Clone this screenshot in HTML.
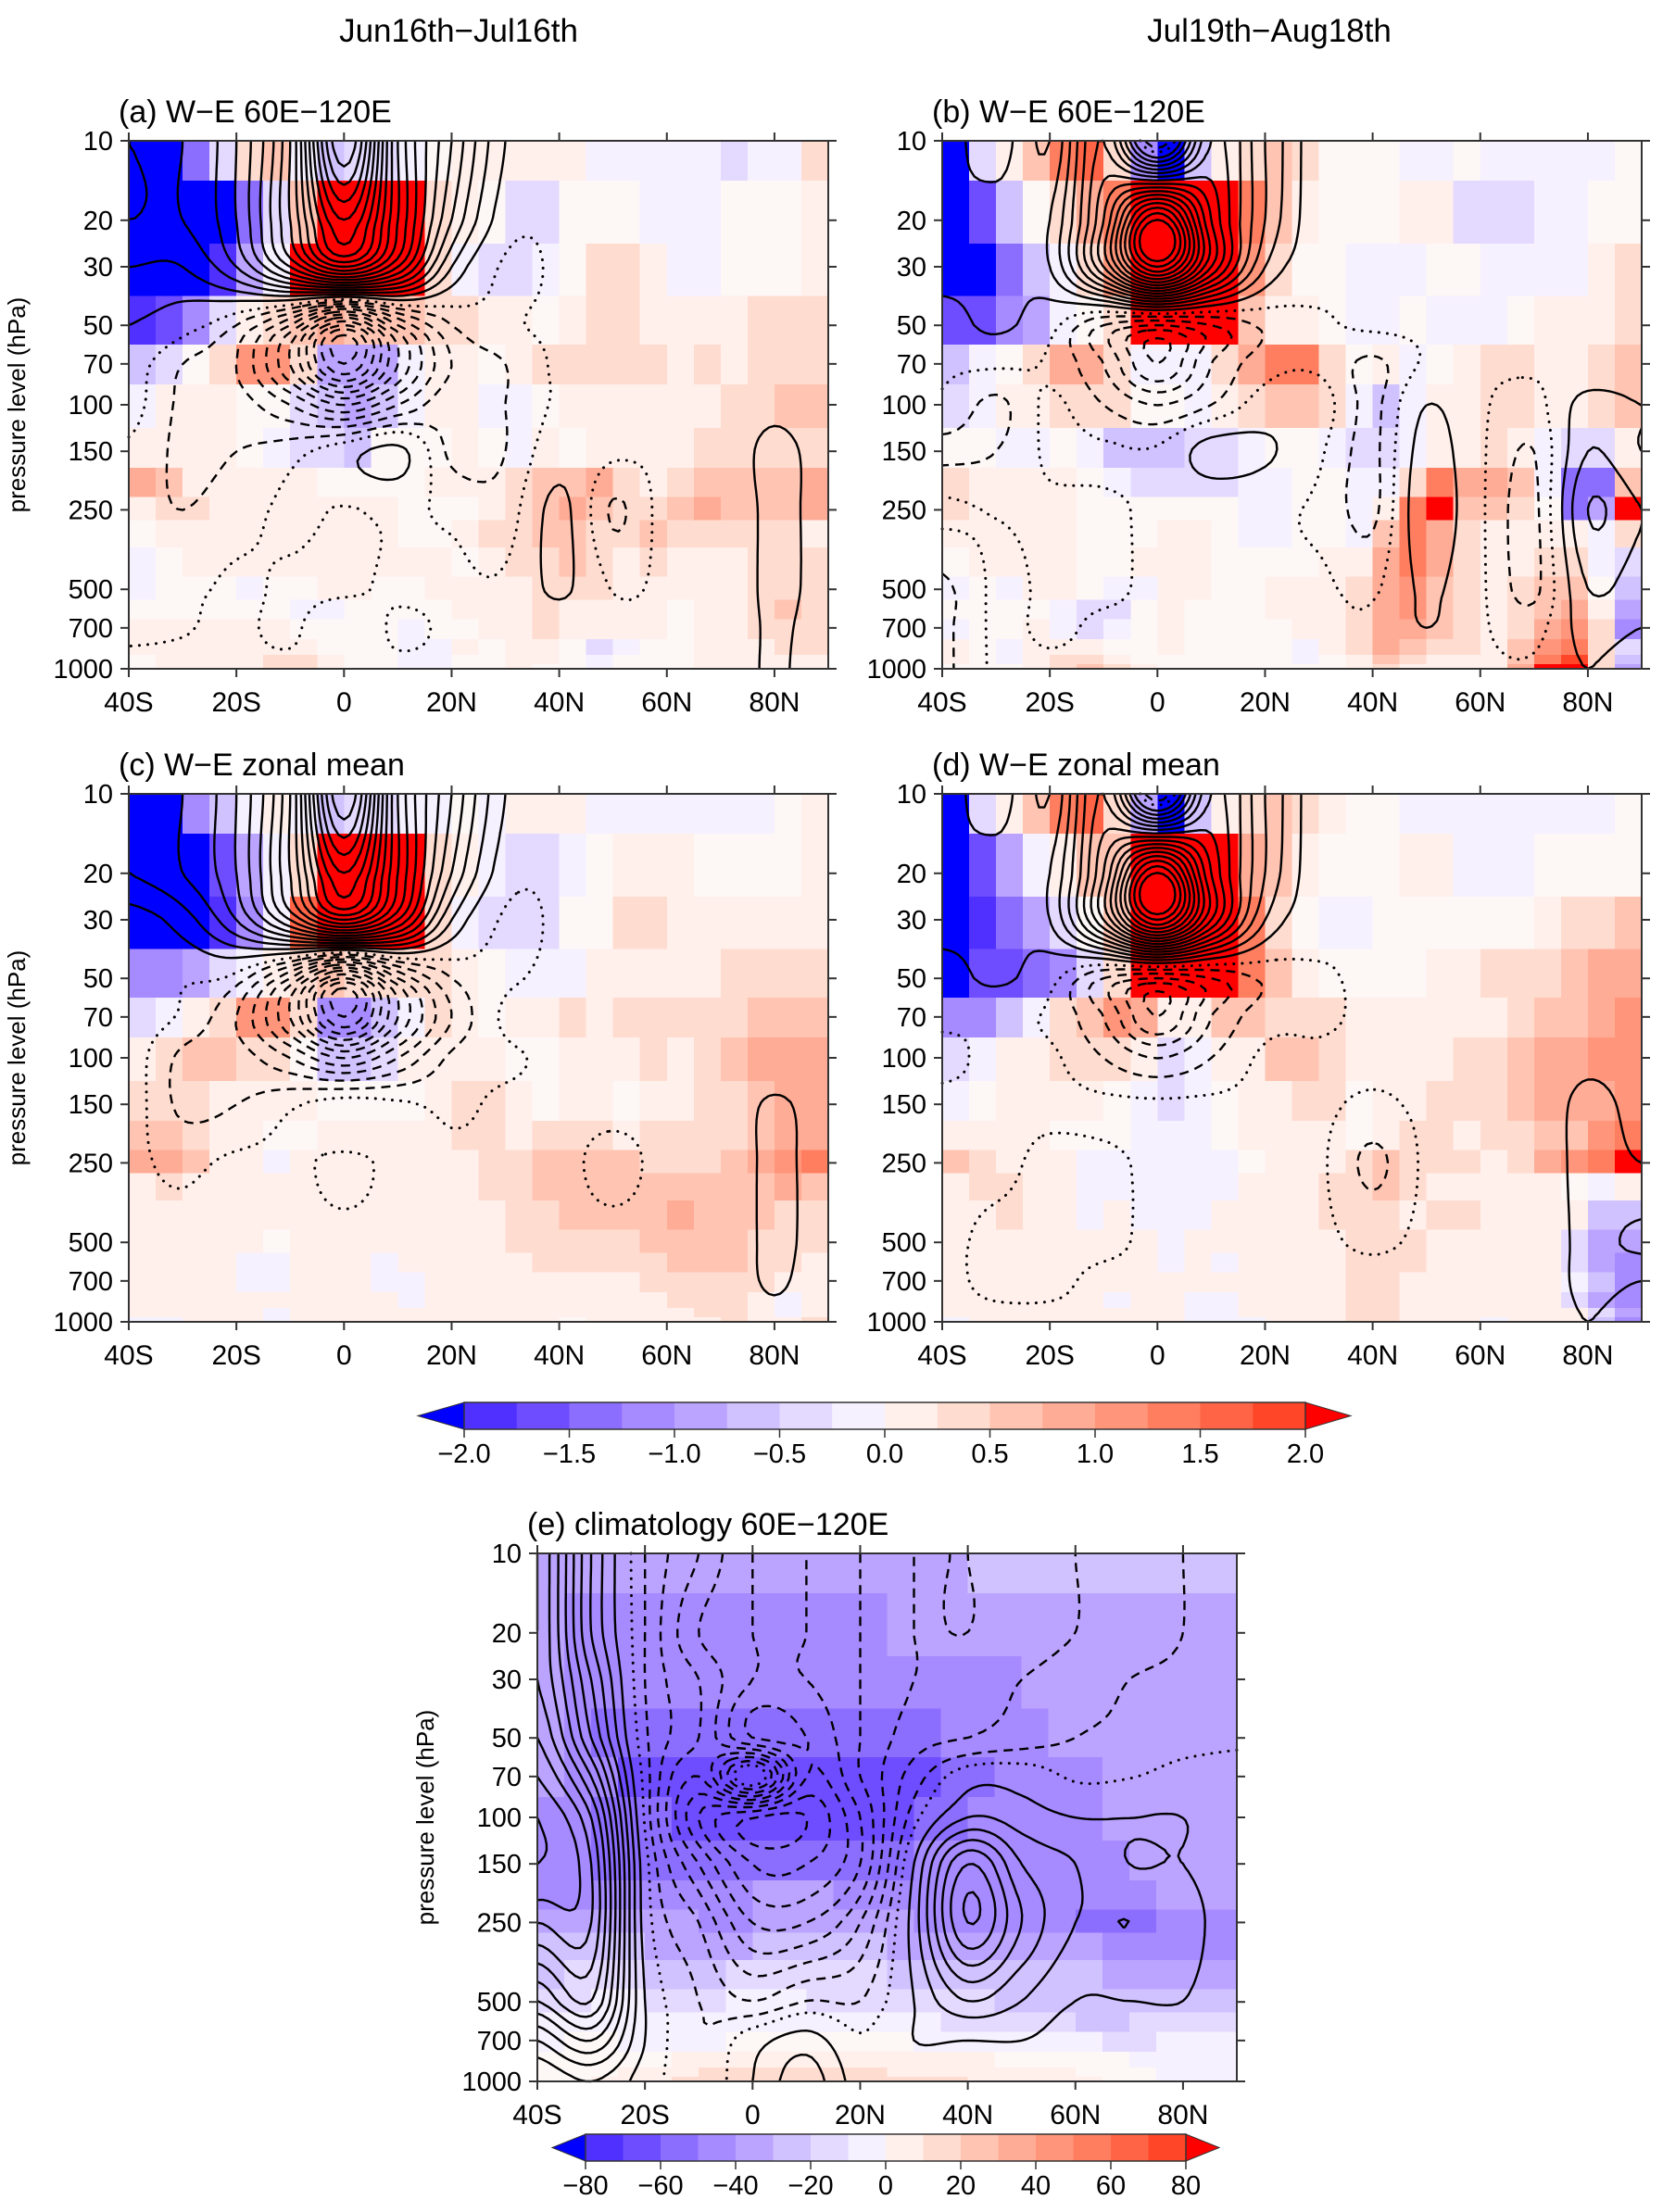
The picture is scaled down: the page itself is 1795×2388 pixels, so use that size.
<!DOCTYPE html>
<html><head><meta charset="utf-8">
<style>
html,body{margin:0;padding:0;background:#fff;}
svg{display:block;font-family:"Liberation Sans",sans-serif;}
</style></head>
<body>
<svg id="fig" width="1795" height="2388" viewBox="0 0 1795 2388" xmlns="http://www.w3.org/2000/svg">
<text x="495" y="45" font-size="35" text-anchor="middle">Jun16th−Jul16th</text>
<text x="1370" y="45" font-size="35" text-anchor="middle">Jul19th−Aug18th</text>
</svg>
<script>
// ---- chart data ----
const lats = [-40,-35,-30,-25,-20,-15,-10,-5,0,5,10,15,20,25,30,35,40,45,50,55,60,65,70,75,80,85];
const levels = [10,20,30,50,70,100,150,200,250,300,400,500,600,700,850,925,1000];
const yTicks = [10,20,30,50,70,100,150,250,500,700,1000];
const xTicks = [-40,-20,0,20,40,60,80];
const xTickLabels = ["40S","20S","0","20N","40N","60N","80N"];
const cbTicks1 = ["-2.0","-1.5","-1.0","-0.5","0.0","0.5","1.0","1.5","2.0"];
const cbTicks2 = ["-80","-60","-40","-20","0","20","40","60","80"];
const cLats = [-40,-30,-20,-10,0,10,20,30,40,50,60,70,80,90];
const cLevels = [10,20,30,50,70,100,150,250,500,700,1000];

const aData = [
[-9,-9,-6,-2,2,3,-1,-3,-2,-2,-1,0,1,1,1,1,1,-1,-1,-1,-1,-1,-2,-1,-1,2],
[-9,-9,-9,-9,-6,-2,3,9,9,9,9,2,1,0,-2,-2,0,0,0,-1,-1,-1,0,0,0,1],
[-9,-9,-9,-8,-4,-1,9,9,9,9,9,2,-1,-2,-2,-1,0,2,2,1,-1,-1,0,0,0,1],
[-8,-7,-5,-2,1,2,3,4,3,3,3,2,2,1,1,0,1,2,2,1,1,1,1,2,2,2],
[-3,-2,0,2,5,5,2,-4,-4,-4,-1,1,1,0,1,2,2,2,2,2,1,2,1,2,2,2],
[-1,1,1,1,0,0,-2,-3,-4,-3,-1,1,1,-1,-1,0,1,1,1,1,1,1,2,2,3,3],
[1,1,1,1,0,-1,-2,-2,-3,0,0,0,1,0,-1,1,0,1,1,1,1,2,2,2,2,2],
[4,3,1,1,1,1,1,0,0,0,0,1,1,1,2,3,3,4,2,1,2,3,3,3,3,4],
[1,2,2,1,1,1,1,1,1,1,0,0,0,1,2,3,4,3,2,2,3,4,3,3,3,4],
[0,1,1,1,1,1,1,1,1,1,0,0,1,2,2,3,3,2,2,3,2,2,2,2,2,1],
[-1,0,1,1,1,1,1,1,1,1,1,1,0,1,2,2,3,2,1,2,1,1,1,2,2,2],
[-1,0,0,0,-1,0,0,1,1,0,0,1,1,1,1,2,2,2,1,1,1,1,1,2,2,2],
[0,0,0,0,0,0,-1,-1,0,0,0,0,1,1,1,2,1,1,1,1,0,1,1,2,3,2],
[1,1,1,1,1,1,0,0,0,0,-1,0,0,1,1,2,1,1,1,1,0,1,1,2,2,2],
[1,1,1,1,1,1,1,0,0,0,-1,-1,1,0,1,1,0,-2,-1,0,0,1,1,1,2,2],
[0,1,1,1,1,2,2,1,0,0,-1,-1,0,0,1,1,0,-1,0,0,0,1,1,1,1,1],
[0,1,1,1,1,2,2,1,0,0,-1,-1,0,0,1,0,0,-1,0,0,0,1,1,1,1,1]];

const bData = [
[-9,-2,1,3,6,7,2,-5,-9,-3,1,2,3,2,0,0,0,-1,-1,0,-1,-1,-1,-1,-1,0],
[-9,-7,-3,0,2,4,6,9,9,9,9,6,3,1,0,0,0,1,1,-2,-2,-2,-1,-1,0,0],
[-9,-9,-6,-3,-1,2,5,9,9,9,9,5,2,0,0,-1,-1,-1,0,0,-1,-1,-1,-1,1,2],
[-7,-7,-5,-4,-1,0,2,9,9,9,9,3,1,1,0,-1,-1,0,-1,-1,-1,0,1,1,1,2],
[-3,-1,0,2,4,4,2,-1,-1,-1,2,4,6,6,2,0,1,-1,0,1,2,2,1,1,2,3],
[-2,-1,1,1,2,2,2,0,0,-1,1,2,3,3,2,-1,-3,-1,1,1,2,2,1,1,2,3],
[0,0,-1,-1,0,-1,-3,-3,-3,-2,-2,-1,0,0,-1,-2,-2,-1,1,1,2,1,-1,-2,-2,1],
[2,1,1,1,1,0,-1,-2,-2,-2,-2,-1,-1,0,0,-1,-1,2,6,4,4,3,-1,-6,-6,3],
[2,1,1,1,1,0,0,0,0,0,0,-1,-1,0,0,-1,1,6,9,3,3,2,0,-6,-4,9],
[1,1,1,1,1,0,0,0,1,1,0,-1,-1,0,0,-1,3,6,4,2,1,1,1,1,-1,2],
[0,1,1,1,1,0,0,1,1,1,0,0,0,0,1,1,4,6,4,2,1,1,2,2,-1,-2],
[-1,0,-1,1,1,0,-1,-1,1,1,0,0,1,1,1,2,4,5,3,2,1,2,3,3,0,-3],
[0,0,0,0,-1,-2,-2,0,1,0,0,0,1,1,1,2,4,5,3,2,1,2,3,4,1,-4],
[-1,0,0,1,-1,-2,-1,0,1,0,0,0,0,1,1,2,4,4,3,2,1,2,4,5,2,-5],
[1,0,-1,1,1,1,0,0,1,0,0,0,0,-1,1,2,4,3,2,2,1,3,5,6,2,-2],
[1,0,-1,1,2,2,1,0,0,0,0,0,0,-1,0,1,3,2,1,1,1,3,6,8,2,-3],
[0,0,0,1,2,3,2,1,0,0,0,0,0,0,0,1,2,1,1,1,1,4,9,9,2,-4]];

const cData = [
[-9,-9,-5,-3,-1,1,-1,-3,-2,-2,-1,-1,0,-1,1,1,1,-1,-1,-1,-1,-1,-1,-1,0,1],
[-9,-9,-9,-7,-4,-1,2,9,9,9,9,2,1,-1,-2,-2,-1,0,1,1,1,0,0,0,0,1],
[-9,-9,-9,-8,-5,-1,7,9,9,9,9,2,-1,-2,-2,-2,0,0,2,2,1,1,1,1,1,1],
[-5,-5,-4,-2,-1,1,2,3,2,2,2,2,1,0,-1,-1,-1,1,1,1,1,1,2,2,2,2],
[-2,-1,1,2,5,5,2,-5,-5,-3,-1,2,1,0,1,1,2,1,2,2,2,2,2,3,3,3],
[1,2,3,3,2,2,0,-3,-3,-2,1,1,1,1,0,0,1,1,1,2,1,2,3,4,4,4],
[2,2,2,1,1,1,1,0,0,0,0,1,2,2,1,0,1,1,0,1,1,2,2,3,4,4],
[3,3,2,1,1,0,0,1,1,1,1,1,2,2,1,2,2,2,1,2,2,2,2,3,4,4],
[4,4,3,1,1,-1,1,1,1,1,1,1,1,2,2,3,3,3,3,2,2,2,3,4,5,6],
[1,2,1,1,1,1,1,1,1,1,1,1,1,2,2,3,3,3,3,3,3,3,3,3,4,3],
[1,1,1,1,1,1,1,1,1,1,1,1,1,1,2,2,3,3,3,3,4,3,3,3,2,2],
[1,1,1,1,1,0,1,1,1,1,1,1,1,1,2,2,2,2,2,3,3,3,3,2,2,2],
[1,1,1,1,-1,-1,1,1,1,-1,1,1,1,1,1,2,2,2,2,2,3,3,3,2,2,1],
[1,1,1,1,-1,-1,1,1,1,-1,-1,1,1,1,1,1,1,1,1,2,2,2,2,2,1,1],
[1,1,1,1,1,1,1,1,1,1,-1,1,1,1,1,1,1,1,1,1,2,2,2,1,-1,1],
[1,1,1,1,1,-1,1,1,1,1,1,1,1,1,1,1,1,1,1,1,1,2,2,1,-1,1],
[-1,-1,1,1,1,-1,1,1,1,1,1,1,1,1,1,1,0,1,1,1,1,1,2,1,1,2]];

const dData = [
[-9,-2,1,3,6,7,2,-4,-9,-3,1,2,3,2,1,0,0,-1,-1,-1,-1,-1,-1,-1,-1,0],
[-9,-7,-4,-1,1,3,3,9,9,9,9,4,3,1,0,0,0,1,1,-1,-1,-1,0,0,0,0],
[-9,-8,-6,-4,-2,0,3,9,9,9,9,6,2,0,-1,-1,0,0,0,0,0,0,1,2,2,3],
[-9,-7,-7,-6,-5,-2,2,9,9,9,9,6,3,1,0,0,0,0,1,1,2,2,2,3,4,4],
[-5,-5,-3,-1,2,3,5,4,1,1,3,3,2,2,2,1,1,1,1,1,1,2,3,3,4,5],
[-2,-1,1,1,2,2,2,1,-2,-1,1,1,3,3,2,1,1,1,1,2,2,3,4,4,5,5],
[-1,0,1,1,1,1,0,-1,-2,-1,0,1,1,2,2,0,1,1,2,2,2,3,4,4,4,5],
[1,1,1,1,0,0,0,-1,-1,-1,0,1,1,1,1,0,1,2,2,1,2,2,3,3,5,6],
[3,2,1,1,1,-1,-1,-1,-1,-1,-1,0,1,1,1,2,3,2,2,2,1,2,4,5,6,9],
[1,2,2,1,1,-1,-1,-1,-1,-1,-1,1,1,1,2,2,3,2,1,1,1,1,1,0,-1,1],
[1,1,2,1,1,-1,1,-1,-1,-1,1,1,1,1,2,2,2,1,2,2,1,1,1,1,-3,-3],
[1,1,1,1,1,1,1,1,-1,1,1,1,1,1,1,2,2,2,1,1,1,1,1,-2,-4,-4],
[1,1,1,1,1,1,1,1,-1,1,-1,1,1,1,1,2,2,2,1,1,1,1,1,-2,-4,-5],
[1,1,1,1,1,1,1,1,1,1,1,1,1,1,1,2,2,1,1,1,1,1,1,-1,-3,-5],
[1,1,1,1,1,1,-1,1,1,-1,-1,1,1,1,1,2,2,1,1,1,1,1,1,-2,-4,-5],
[1,1,1,1,1,1,1,1,1,-1,-1,1,1,1,1,2,2,1,1,1,1,1,1,1,-2,-4],
[-1,1,1,1,1,1,1,1,1,-1,-1,-1,1,1,1,2,2,1,1,1,-1,1,1,1,-3,-5]];

const eData = [
[-4,-4,-4,-4,-4,-4,-4,-4,-4,-4,-4,-4,-4,-4,-4,-4,-3,-3,-3,-3,-3,-3,-3,-3,-3,-3],
[-4,-5,-5,-5,-5,-5,-5,-5,-5,-5,-5,-5,-5,-4,-4,-4,-4,-4,-4,-4,-4,-4,-4,-4,-4,-4],
[-4,-5,-5,-5,-5,-5,-5,-5,-5,-5,-5,-5,-5,-5,-5,-5,-5,-5,-4,-4,-4,-4,-4,-4,-4,-4],
[-4,-5,-6,-6,-6,-6,-6,-6,-6,-6,-6,-6,-6,-6,-6,-5,-5,-5,-5,-4,-4,-4,-4,-4,-4,-4],
[-4,-5,-5,-7,-7,-7,-7,-7,-7,-7,-7,-7,-7,-7,-7,-6,-6,-5,-5,-5,-5,-4,-4,-4,-4,-4],
[-5,-5,-6,-6,-6,-7,-7,-7,-7,-7,-7,-7,-7,-7,-6,-6,-5,-5,-5,-5,-5,-4,-4,-4,-4,-4],
[-5,-5,-6,-6,-6,-6,-6,-6,-6,-6,-6,-6,-6,-6,-5,-5,-5,-5,-5,-5,-5,-5,-4,-4,-4,-4],
[-5,-5,-5,-5,-5,-5,-5,-5,-4,-4,-4,-5,-5,-5,-5,-5,-5,-5,-5,-5,-5,-5,-5,-4,-4,-4],
[-4,-4,-4,-4,-4,-4,-5,-5,-4,-4,-4,-4,-4,-4,-5,-5,-5,-5,-5,-5,-6,-6,-6,-5,-5,-5],
[-3,-3,-3,-3,-4,-4,-4,-4,-3,-3,-3,-3,-3,-4,-4,-4,-4,-4,-4,-4,-4,-5,-5,-5,-5,-5],
[-3,-2,-2,-2,-3,-3,-3,-2,-2,-2,-2,-2,-2,-3,-3,-3,-3,-3,-3,-3,-3,-4,-4,-4,-4,-4],
[-2,-2,-1,-1,-2,-2,-2,-1,-1,-1,-2,-2,-2,-2,-2,-2,-2,-3,-3,-3,-3,-3,-3,-3,-3,-3],
[-1,-1,-1,-1,-1,-1,-1,-1,-1,-1,-1,-1,-1,-1,-1,-2,-2,-2,-2,-2,-3,-3,-2,-2,-2,-2],
[-1,0,0,-1,-1,-1,-1,0,0,0,0,0,0,0,-1,-1,-1,-1,-1,-1,-1,-2,-2,-1,-1,-1],
[0,0,0,0,0,1,1,1,1,1,1,1,1,1,1,1,1,0,0,0,0,0,-1,-1,-1,-1],
[0,0,0,1,1,1,2,2,2,2,2,2,2,1,1,1,1,1,1,1,0,0,0,-1,-1,-1],
[0,0,1,1,1,2,2,2,2,2,2,2,2,2,2,2,1,1,1,1,1,0,0,-1,-1,-1]];

// contour fields (on cLevels x cLats)
const aCont = [
[3,3,5,10,20,10,5,1,0,0,0,0,0,0],
[3,3,5,10,16,10,4,0.4,0,0,0,0,0,0],
[2,2,4,8,12,8,2,-0.3,0,0,0,0,0,0],
[1,0.3,-1,-4,-9,-4,-1,-0.3,0,0,0,0,0,0],
[0.3,-1,-2,-6,-11,-6,-2,-1,0,0,0,0,0,0],
[0.2,-1.2,-1.5,-3,-5,-3,-1.2,-1,0,0,0,0,0.6,0],
[-0.3,-1.2,-1,-0.5,0.5,1.3,-1.2,-1,0.5,0,0,0,1.4,0.3],
[-0.6,-1,-0.5,0,-0.2,0,-0.3,-0.6,1.3,-1.1,0.2,0,1.3,0.5],
[-0.6,-0.4,0,-0.3,-0.3,0,0,0,1.2,-0.2,0,0,1.3,0.5],
[-0.3,-0.2,0,-0.3,0.6,-0.3,0,0,0.3,0,0,0,1.2,0.3],
[0,0,0,0,0,0,0,0,0,0,0,0,1.2,0]];
const bCont = [
[1.5,2.5,1,6,-2,6,3,0.3,0,0,0,0,0,0],
[2,1.5,2,8,16,8,3,0.3,0,0,0,0,0,0],
[1.5,1.2,2,8,15,8,2,0.3,0,0,0,0,0,0],
[0.5,1.2,0.2,-2,-3,-2,-0.8,-0.3,0,0,0,0,0,0],
[0,0,-0.3,-2,-5,-2,-0.5,-0.3,-1.2,0,0,0,0,0],
[-0.3,-1.2,0,-1,-2,-1,0.3,0.3,-1.2,1,0,-0.5,1.5,1],
[-1.2,-1,0,0,0,1.5,1.2,0,-1.2,1.5,0,-1,2,1],
[0,-0.2,-0.3,-0.3,0,0,0,-0.3,-1.2,1.8,0,-1.2,3,2],
[-1.2,0,-0.3,-0.3,0,0,0,0,-0.3,1.2,0,-1.2,2,1.5],
[-1.2,0,-0.3,0,0,0,0,0,0,1,0,-0.5,1.5,1],
[-1.2,0,0,0,0,0,0,0,0,0,0,0,1,0]];
const cCont = [
[2,3,5,10,20,10,5,1,0,0,0,0,0,0],
[2,3,5,10,16,10,4,0.4,0,0,0,0,0,0],
[0.5,1.5,4,8,12,8,2,-0.3,0,0,0,0,0,0],
[0,0,-0.5,-4,-9,-4,-1,-0.3,0,0,0,0,0,0],
[0.3,-0.3,-2,-6,-11,-6,-2,0,0,0,0,0,0,0],
[0.3,-1.2,-1.5,-3,-5,-3,-0.8,-0.3,0,0,0,0,0,0],
[0.3,-1.2,-1,-0.3,0.3,0,-0.3,0,0,0,0,0,1.2,0.2],
[0,-0.3,0,0,-0.3,0,0,0,0,-0.3,0,0,1.3,0.3],
[0,0,0,0,0,0,0,0,0,0,0,0,1.3,0.3],
[0,0,0,0,0,0,0,0,0,0,0,0,1.2,0],
[0,0,0,0,0,0,0,0,0,0,0,0,0.6,0]];
const dCont = [
[1.5,2.5,1,6,-2,6,3,0.3,0,0,0,0,0,0],
[2,1.5,2,8,16,8,3,0.3,0,0,0,0,0,0],
[1.5,1.2,2,8,15,8,2,0.3,0,0,0,0,0,0],
[0.5,1.2,0.2,-2,-3,-2,-0.8,-0.3,0,0,0,0,0,0],
[0,0,-0.3,-2,-5,-2,-0.5,-0.3,0,0,0,0,0,0],
[-0.3,0,0,-1,-2,-1,0,0,0,0,0,0,0.6,0.3],
[0,0,0,0,0,0,0,0,-0.3,0,0,0,1.4,0.5],
[0,0,-0.3,-0.3,0,0,0,0,-1.2,0,0,0,1.5,1],
[0,-0.3,-0.3,-0.3,0,0,0,0,-0.3,0,0,0,1.5,2.2],
[0,-0.3,-0.3,0,0,0,0,0,0,0,0,0,1.4,1],
[0,0,0,0,0,0,0,0,0,0,0,0,1,0]];
const eCont = [
[9,3,-1,-3,-5,-5,-4,-3,-3,-2.5,-2,-1.5,-1,-0.5],
[9,3,-1,-4,-5,-5,-4,-3,-3,-2.5,-2,-1.5,-1,-0.5],
[9,4,-1,-3,-5,-5,-4,-3,-2.5,-2,-1.5,-1,-0.8,-0.5],
[10,5,-0.8,-3,-6,-6,-4,-2.5,-2,-1.5,-1,-0.8,-0.5,-0.3],
[11,7,-0.5,-4,1,-6,-4,-1.5,0.5,0.5,-0.3,-0.2,0.2,0.2],
[12,9,-0.3,-6,-8,-8,-5,-0.5,2,1.5,1,1,1,0.3],
[12,10,0.3,-4,-7,-7,-5,1,6,3,2,1,1,0.3],
[10,10,0.5,-2,-5,-5,-3,1.5,7,4,2,2,1.5,0.3],
[6,8,1,-1,-2,-1,-1,1,3,2,1,1,1,0.3],
[3,5,1,-1,0.5,1.5,0,1,1,1,0.5,0.5,0.5,0.2],
[1,2,0.5,-1,1,2.5,0.5,0.5,0.3,0.2,0.2,0.2,0.2,0.2]];

// ---- rendering ----
const NS = "http://www.w3.org/2000/svg";
const svg = document.getElementById("fig");
const negCols = ["#f5f1ff","#e4daff","#d0c2ff","#bba4ff","#a68aff","#8c6eff","#6e4cff","#5030ff"];
const posCols = ["#fff0ec","#ffdcd0","#ffc4b2","#ffac96","#ff957a","#ff7e60","#ff6446","#ff4628"];
function colorOf(v){
  if(v>=9) return "#ff0000";
  if(v<=-9) return "#0000ff";
  if(v===0) return "#fdf7f6";
  return v>0 ? posCols[v-1] : negCols[-v-1];
}
function mk(tag, attrs, parent){
  const e = document.createElementNS(NS, tag);
  for(const k in attrs) e.setAttribute(k, attrs[k]);
  (parent||svg).appendChild(e);
  return e;
}
function cr(p0,p1,p2,p3,t){
  return 0.5*((2*p1)+(-p0+p2)*t+(2*p0-5*p1+4*p2-p3)*t*t+(-p0+3*p1-3*p2+p3)*t*t*t);
}
const W = 755, H = 570;
function drawPanel(px, py, title, data, cont, cstep, yTitle, pname){
  const g = mk("g", {});
  
  
  const xs = lat => px + (lat + 40) / 130 * W;
  const ys = p => py + (Math.log10(p) - 1) / 2 * H;
  const cg = mk("g", {"shape-rendering":"crispEdges"}, g);
  
  
  for(let i=0;i<levels.length;i++){
    const pTop = i===0 ? 10 : Math.sqrt(levels[i-1]*levels[i]);
    const pBot = i===levels.length-1 ? 1000 : Math.sqrt(levels[i]*levels[i+1]);
    for(let j=0;j<lats.length;j++){
      const x0 = xs(lats[j]), x1 = xs(Math.min(lats[j]+5, 90));
      const r = mk("rect", {x:x0.toFixed(1), y:ys(pTop).toFixed(1), width:(x1-x0+0.6).toFixed(1), height:(ys(pBot)-ys(pTop)+0.6).toFixed(1), fill:colorOf(data[i][j])}, cg);
      
      
    }
  }
  const nx = 131, ny = 90;
  const lp = cLevels.map(p=>Math.log10(p));
  const nR = cont.length, nC = cont[0].length;
  const gv = (i,j) => cont[Math.max(0,Math.min(nR-1,i))][Math.max(0,Math.min(nC-1,j))];
  function sample(lat, l){
    let j = 0; while(j < cLats.length-2 && lat > cLats[j+1]) j++;
    let i = 0; while(i < lp.length-2 && l > lp[i+1]) i++;
    const tx = (lat - cLats[j])/(cLats[j+1]-cLats[j]);
    const ty = (l - lp[i])/(lp[i+1]-lp[i]);
    const rows = [];
    for(let k=-1;k<=2;k++){
      rows.push(cr(gv(i+k,j-1),gv(i+k,j),gv(i+k,j+1),gv(i+k,j+2),tx));
    }
    return cr(rows[0],rows[1],rows[2],rows[3],ty);
  }
  const F = [], GX = [], GY = [];
  for(let j=0;j<ny;j++){
    const l = 1 + 2*j/(ny-1);
    GY.push(py + (l-1)/2*H);
    const row = [];
    for(let i=0;i<nx;i++){ row.push(sample(-40 + 130*i/(nx-1), l)); }
    F.push(row);
  }
  for(let i=0;i<nx;i++) GX.push(px + W*i/(nx-1));
  let mn=Infinity, mx=-Infinity;
  cont.forEach(r=>r.forEach(v=>{mn=Math.min(mn,v);mx=Math.max(mx,v);}));
  const clev = [];
  for(let c=Math.ceil(mn/cstep)*cstep; c<=mx; c+=cstep) clev.push(c);
  const og = mk("g", {fill:"none", stroke:"#000", "stroke-linejoin":"round"}, g);
  
  
  clev.forEach(c0=>{
    const isZero = Math.abs(c0) < 1e-9;
    const c = isZero ? -0.15 : c0;
    const pts = {}, adj = {};
    function ept(key, x0,y0,v0,x1,y1,v1){
      if(!pts[key]){ const t=(c-v0)/(v1-v0); pts[key]=[x0+(x1-x0)*t, y0+(y1-y0)*t]; }
      return key;
    }
    function link(a,b){ (adj[a]=adj[a]||[]).push(b); (adj[b]=adj[b]||[]).push(a); }
    for(let j=0;j<ny-1;j++) for(let i=0;i<nx-1;i++){
      const a=F[j][i], b=F[j][i+1], cc=F[j+1][i+1], d=F[j+1][i];
      const e=[];
      if((a>=c)!==(b>=c)) e.push(ept("h"+i+","+j, GX[i],GY[j],a, GX[i+1],GY[j],b));
      if((b>=c)!==(cc>=c)) e.push(ept("v"+(i+1)+","+j, GX[i+1],GY[j],b, GX[i+1],GY[j+1],cc));
      if((d>=c)!==(cc>=c)) e.push(ept("h"+i+","+(j+1), GX[i],GY[j+1],d, GX[i+1],GY[j+1],cc));
      if((a>=c)!==(d>=c)) e.push(ept("v"+i+","+j, GX[i],GY[j],a, GX[i],GY[j+1],d));
      if(e.length===2) link(e[0],e[1]);
      else if(e.length===4){ link(e[0],e[3]); link(e[1],e[2]); }
    }
    const used = {};
    let dstr = "";
    const keys = Object.keys(adj);
    const starts = keys.filter(k=>adj[k].length===1).concat(keys);
    starts.forEach(s=>{
      if(used[s]) return;
      let cur = s, prev = null, line = [pts[s]];
      used[s]=true;
      while(true){
        const nb = adj[cur].filter(k=>k!==prev && !used[k]);
        if(!nb.length){ if(adj[cur].includes(s) && line.length>2 && prev!==s) line.push(pts[s]); break; }
        prev = cur; cur = nb[0]; used[cur]=true; line.push(pts[cur]);
      }
      if(line.length < 3) return;
      dstr += "M" + line.map(p=>p[0].toFixed(1)+","+p[1].toFixed(1)).join("L");
    });
    if(!dstr) return;
    const attrs = {d:dstr, "stroke-width": 2.4};
    if(isZero){ attrs["stroke-dasharray"]="0.1 9"; attrs["stroke-linecap"]="round"; attrs["stroke-width"]=3; }
    else if(c0 < 0){ attrs["stroke-dasharray"]="10 7"; }
    const pth = mk("path", attrs, og);
    
    
  });
  const fr = mk("rect", {x:px, y:py, width:W, height:H, fill:"none", stroke:"#333", "stroke-width":2}, g);
  
  
  yTicks.forEach(p=>{
    const y = ys(p);
    const t = mk("line", {x1:px-9, x2:px, y1:y, y2:y, stroke:"#333", "stroke-width":2}, g);
    
    
    const t2 = mk("line", {x1:px+W, x2:px+W+9, y1:y, y2:y, stroke:"#333", "stroke-width":2}, g);
    
    
    const lb = mk("text", {x:px-17, y:y+10, "font-size":29, "text-anchor":"end"}, g);
    lb.textContent = String(p);
    
    
  });
  xTicks.forEach((lat,k)=>{
    const x = xs(lat);
    const t = mk("line", {x1:x, x2:x, y1:py+H, y2:py+H+9, stroke:"#333", "stroke-width":2}, g);
    
    
    const t2 = mk("line", {x1:x, x2:x, y1:py-9, y2:py, stroke:"#333", "stroke-width":2}, g);
    
    
    const lb = mk("text", {x:x, y:py+H+46, "font-size":30, "text-anchor":"middle"}, g);
    lb.textContent = xTickLabels[k];
    
    
  });
  const tt = mk("text", {x:px-11, y:py-20, "font-size":34}, g);
  tt.textContent = title;
  
  
  if(yTitle){
    const cx = px-112, cy = py+H/2;
    const yt = mk("text", {x:cx, y:cy, "font-size":26, "text-anchor":"middle", transform:`rotate(-90 ${cx} ${cy})`}, g);
    yt.textContent = "pressure level (hPa)";
    
    
  }
}
function drawColorbar(x0, x1, y0, y1, tipL, tipR, labels, name){
  const g = mk("g", {});
  
  
  const n = 16, bw = (x1-x0)/n, ym=(y0+y1)/2;
  const tl = mk("polygon", {points:`${tipL},${ym} ${x0},${y0} ${x0},${y1}`, fill:"#0000ff", stroke:"#333", "stroke-width":1}, g);
  
  
  const tr = mk("polygon", {points:`${tipR},${ym} ${x1},${y0} ${x1},${y1}`, fill:"#ff0000", stroke:"#333", "stroke-width":1}, g);
  
  
  for(let k=0;k<n;k++){
    const v = k<8 ? -(8-k) : k-7;
    const r = mk("rect", {x:x0+k*bw, y:y0, width:bw+0.5, height:y1-y0, fill:colorOf(v)}, g);
    
    
  }
  const fr = mk("rect", {x:x0, y:y0, width:x1-x0, height:y1-y0, fill:"none", stroke:"#333", "stroke-width":1.5}, g);
  
  
  labels.forEach((s,k)=>{
    const x = x0 + k*2*bw;
    const t = mk("line", {x1:x, x2:x, y1:y1, y2:y1+9, stroke:"#333", "stroke-width":1.5}, g);
    
    
    const lb = mk("text", {x:x, y:y1+36, "font-size":29, "text-anchor":"middle"}, g);
    lb.textContent = s.replace("-", "−");
    
    
  });
}
drawPanel(139, 152, "(a) W−E  60E−120E", aData, aCont, 1, true, "panel-a");
drawPanel(1017, 152, "(b) W−E 60E−120E", bData, bCont, 1, false, "panel-b");
drawPanel(139, 857, "(c) W−E  zonal mean", cData, cCont, 1, true, "panel-c");
drawPanel(1017, 857, "(d) W−E  zonal mean", dData, dCont, 1, false, "panel-d");
drawColorbar(501, 1409, 1514, 1543, 451, 1458, cbTicks1, "colorbar-anomaly");
drawPanel(580, 1677, "(e) climatology  60E−120E", eData, eCont, 1, true, "panel-e");
drawColorbar(632, 1280, 2304, 2333, 596, 1316, cbTicks2, "colorbar-climatology");
</script>
</body></html>
